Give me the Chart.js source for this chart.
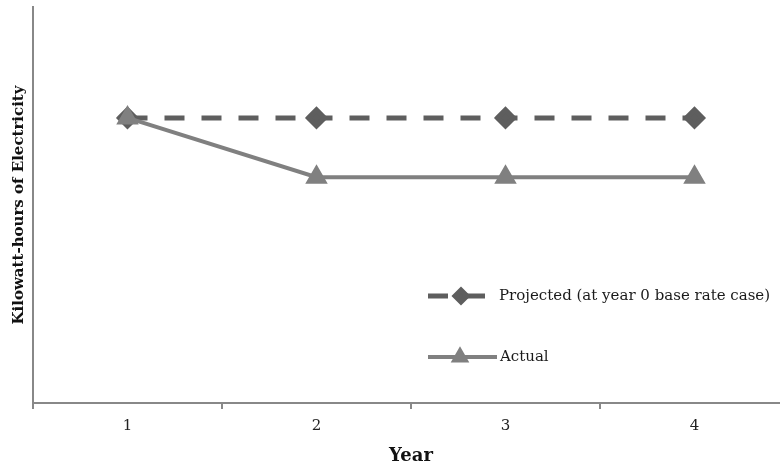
<!DOCTYPE html>
<html lang="en">
<head>
  <meta charset="UTF-8">
  <title>Kilowatt-hours of Electricity</title>
  <script src="https://cdn.jsdelivr.net/npm/chart.js"></script>
  <style>
    html, body { margin: 0; padding: 0; background: #fff; overflow: hidden; }
    #wrap { width: 802px; height: 468px; }
  </style>
</head>
<body>
  <div id="wrap"><canvas id="kwhChart" width="802" height="468"></canvas></div>

  <script>
    const years = ['1', '2', '3', '4'];
    const projected = [72, 72, 72, 72];
    const actual = [72, 57, 57, 57];
    const seriesNames = ['Projected (at year 0 base rate case)', 'Actual'];

    const serif = '"DejaVu Serif", "Liberation Serif", serif';
    const axisGray = '#888888';

    // legend sits inside the plot, so draw it by hand
    const insideLegend = {
      id: 'insideLegend',
      afterDraw(chart) {
        const ctx = chart.ctx;
        const spots = [
          { y: 296, x0: 428, x1: 487, mx: 461, tx: 499 },
          { y: 357, x0: 428, x1: 497, mx: 460, tx: 500 }
        ];
        chart.data.datasets.forEach((ds, i) => {
          const s = spots[i];
          ctx.save();
          ctx.strokeStyle = ds.borderColor;
          ctx.lineWidth = ds.borderWidth;
          ctx.setLineDash(ds.borderDash || []);
          ctx.lineCap = 'butt';
          ctx.beginPath();
          ctx.moveTo(s.x0, s.y);
          ctx.lineTo(s.x1, s.y);
          ctx.stroke();
          ctx.setLineDash([]);
          ctx.fillStyle = ds.pointBackgroundColor;
          ctx.strokeStyle = ds.pointBorderColor;
          Chart.helpers.drawPoint(ctx, {
            pointStyle: ds.pointStyle,
            radius: ds.pointRadius * 0.75,
            rotation: 0,
            borderWidth: 1
          }, s.mx, s.y);
          ctx.fillStyle = '#1a1a1a';
          ctx.font = '15px ' + serif;
          ctx.textBaseline = 'middle';
          ctx.fillText(ds.label, s.tx, s.y);
          ctx.restore();
        });
      }
    };

    new Chart(document.getElementById('kwhChart'), {
      type: 'line',
      data: {
        labels: years,
        datasets: [{
          label: seriesNames[0],
          data: projected,
          order: 1,
          borderColor: '#5e5e5e',
          borderWidth: 5,
          borderDash: [20, 17],
          pointStyle: 'rectRot',
          pointRadius: 8,
          pointBackgroundColor: '#5e5e5e',
          pointBorderColor: '#5e5e5e',
          tension: 0
        }, {
          label: seriesNames[1],
          data: actual,
          order: 0,
          borderColor: '#808080',
          borderWidth: 4,
          pointStyle: 'triangle',
          pointRadius: 9,
          pointBackgroundColor: '#808080',
          pointBorderColor: '#808080',
          tension: 0
        }]
      },
      options: {
        responsive: false,
        animation: false,
        layout: { autoPadding: false, padding: { top: 7, right: 13, left: 0, bottom: 0 } },
        plugins: {
          legend: { display: false },
          tooltip: { enabled: false }
        },
        scales: {
          x: {
            offset: true,
            grid: {
              offset: true,
              drawOnChartArea: false,
              drawTicks: true,
              tickLength: 6,
              color: axisGray,
              lineWidth: 2
            },
            border: { display: true, color: axisGray, width: 2 },
            ticks: {
              color: '#222',
              padding: 8,
              font: { family: serif, size: 15 }
            },
            title: {
              display: true,
              text: 'Year',
              color: '#111',
              font: { family: serif, size: 18, weight: 'bold' },
              padding: { top: 6, bottom: 1 }
            },
            afterFit(scale) { scale.height = 65; }
          },
          y: {
            min: 0,
            max: 100,
            grid: { drawOnChartArea: false, drawTicks: false },
            border: { display: true, color: axisGray, width: 2 },
            ticks: { display: false },
            title: {
              display: true,
              text: 'Kilowatt-hours of Electricity',
              color: '#111',
              font: { family: serif, size: 15, weight: 'bold' },
              padding: { top: 10, bottom: 0 }
            },
            afterFit(scale) { scale.width = 33; }
          }
        }
      },
      plugins: [insideLegend]
    });
  </script>
</body>
</html>
